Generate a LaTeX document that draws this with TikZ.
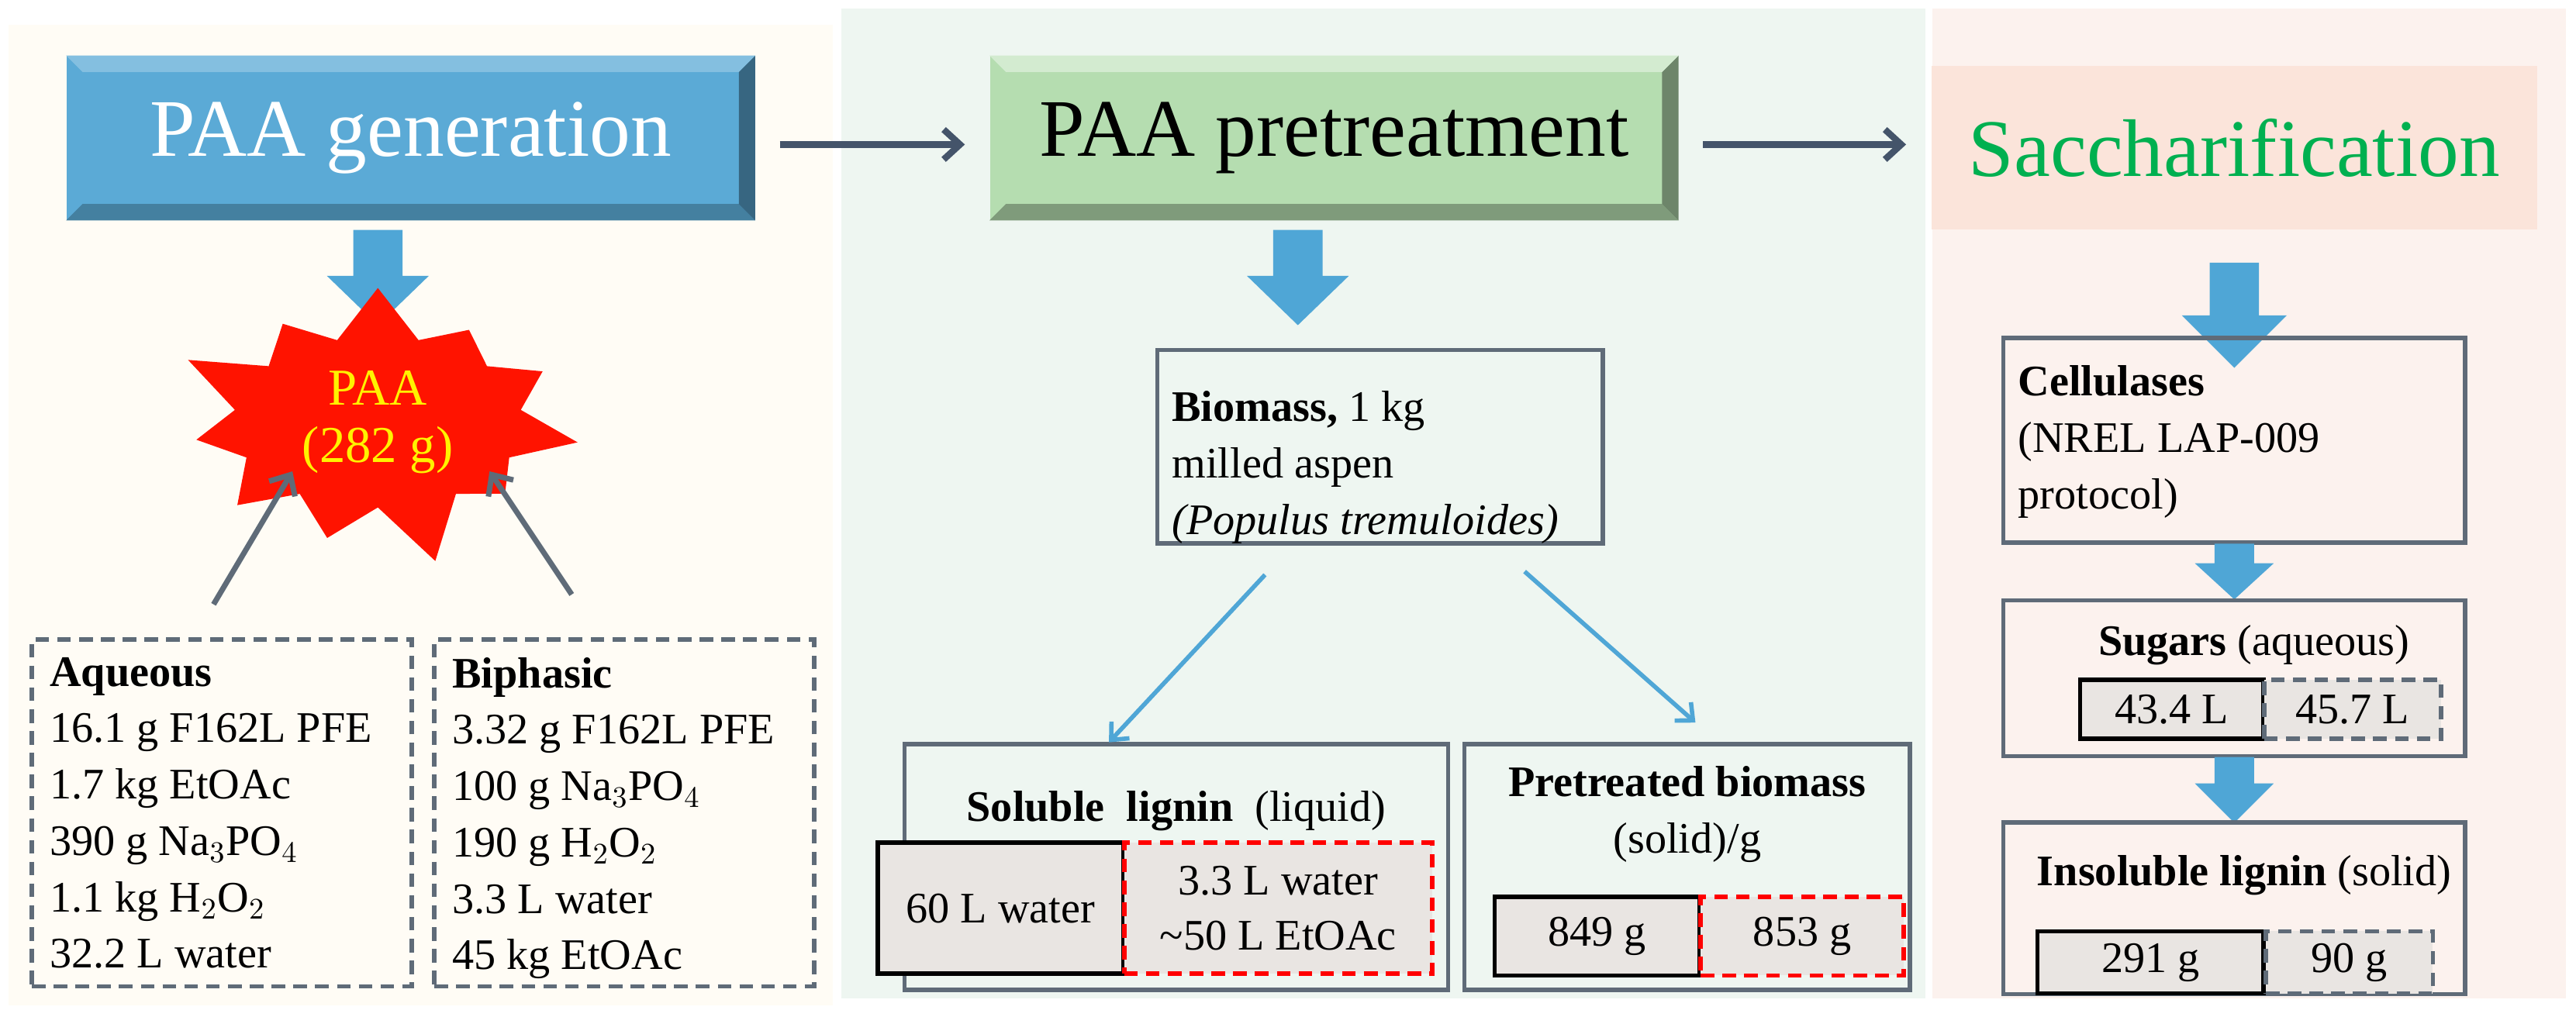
\documentclass[tikz,border=0pt]{standalone}
\usepackage{fontspec}
\setmainfont{Liberation Serif}
\usetikzlibrary{shapes.symbols,arrows.meta}
\definecolor{creamBack}{HTML}{FFFCF5}
\definecolor{greenBack}{HTML}{EEF6F1}
\definecolor{pinkBack}{HTML}{FCF2EE}
\definecolor{headBlue}{HTML}{5BAAD6}
\definecolor{headGreen}{HTML}{B5DDB0}
\definecolor{headPink}{HTML}{FBE4DA}
\definecolor{saccGreen}{HTML}{00B050}
\definecolor{flowDark}{HTML}{44546A}
\definecolor{boxGray}{HTML}{5F6B78}
\definecolor{cellFill}{HTML}{E9E5E2}
\definecolor{lightBlue}{HTML}{4FA6D6}
\def\dpx{0.6011}
\tikzset{
	header/.style={minimum width=#1*\dpx, minimum height=100*\dpx, inner sep=0pt, font=\fontsize{30}{32}\selectfont},
	bigarrow/.style={fill=lightBlue},
	frame/.style={draw=boxGray, line width=1.6pt, inner sep=0pt},
	dashframe/.style={draw=boxGray, line width=1.6pt, dash pattern=on 5pt off 3pt, inner sep=0pt},
	txt/.style={font=\fontsize{16}{20.7}\selectfont, align=left, inner sep=0pt},
	cell/.style={draw=#1, fill=cellFill, line width=1.6pt, inner sep=0pt, font=\fontsize{16}{20}\selectfont},
	flow/.style={-{Straight Barb[length=6pt,width=11pt]}, draw=flowDark, line width=2.4pt},
	thin/.style={-{Straight Barb[length=5pt,width=9pt]}, draw=lightBlue, line width=1.6pt}
}
% block arrow pointing down from a named coordinate: shaft half width, head half width, shaft length, head length
\newcommand\downArrow[5]{\fill[bigarrow] (#1) ++(-#2,0) -- ++(0,#4) -- ++(#2-#3,0) -- ++(#3,#5) -- ++(#3,-#5) -- ++(#2-#3,0) -- ++(0,-#4) -- cycle;}
\begin{document}
\begin{tikzpicture}[x=0.2119mm, y=-0.2119mm]
\useasboundingbox (0,0) rectangle (1568,619);
% panels
\fill[creamBack] (5,15) rectangle (507,612);
\fill[greenBack] (512,5) rectangle (1172,608);
\fill[pinkBack] (1176,5) rectangle (1562,608);

% headers
\node[header=420, fill=headBlue] (gen) at (250,84) {};
\fill[headBlue!75!black] (gen.south west) -- (gen.south east) -- ++(-10,-10) -- ([shift={(10,-10)}]gen.south west) -- cycle;
\fill[headBlue!60!black] (gen.south east) -- (gen.north east) -- ++(-10,10) -- ([shift={(-10,-10)}]gen.south east) -- cycle;
\fill[headBlue!75!white] (gen.north west) -- (gen.north east) -- ++(-10,10) -- ([shift={(10,10)}]gen.north west) -- cycle;
\node[header=420, text=white] at (gen) {PAA generation};

\node[header=420, fill=headGreen] (pre) at (812,84) {};
\fill[headGreen!70!black] (pre.south west) -- (pre.south east) -- ++(-10,-10) -- ([shift={(10,-10)}]pre.south west) -- cycle;
\fill[headGreen!60!black] (pre.south east) -- (pre.north east) -- ++(-10,10) -- ([shift={(-10,-10)}]pre.south east) -- cycle;
\fill[headGreen!60!white] (pre.north west) -- (pre.north east) -- ++(-10,10) -- ([shift={(10,10)}]pre.north west) -- cycle;
\node[header=420] at (pre) {PAA pretreatment};

\node[header=370, fill=headPink, text=saccGreen] (sacc) at (1360,90) {Saccharification};

\coordinate (g1) at ([shift={(15,4)}]gen.east);
\coordinate (p0) at ([shift={(-15,4)}]pre.west);
\coordinate (p1) at ([shift={(15,4)}]pre.east);
\coordinate (sw0) at ([shift={(-15,0)}]sacc.west);
\coordinate (s0) at (p1 -| sw0);
\draw[flow] (g1) -- (p0);
\draw[flow] (p1) -- (s0);

% PAA generation
\coordinate (genArrow) at (230,140);
\downArrow{genArrow}{15}{31}{28}{30}
\node[starburst, starburst points=11, starburst point height=25pt, fill=red!85!orange, draw=none, minimum width=156pt, minimum height=90pt, align=center, text=yellow, font=\fontsize{19}{21}\selectfont] (paa) at (230,257) {PAA\\(282 g)};

\node[dashframe, minimum width=232*\dpx, minimum height=212*\dpx] (aq) at (135,495) {};
\node[txt, anchor=north west] at ([shift={(12,12)}]aq.north west) {\textbf{Aqueous}\\16.1 g F162L PFE\\1.7 kg EtOAc\\390 g Na$_3$PO$_4$\\1.1 kg H$_2$O$_2$\\32.2 L water};
\node[dashframe, minimum width=232*\dpx, minimum height=212*\dpx] (bi) at (380,495) {};
\node[txt, anchor=north west] at ([shift={(12,12)}]bi.north west) {\textbf{Biphasic}\\3.32 g F162L PFE\\100 g Na$_3$PO$_4$\\190 g H$_2$O$_2$\\3.3 L water\\45 kg EtOAc};
\coordinate (aqTail) at (130,368);
\coordinate (biTail) at (348,362);
\draw[flow, draw=boxGray, line width=2pt] (aqTail) -- (178,287);
\draw[flow, draw=boxGray, line width=2pt] (biTail) -- (298,287);

% PAA pretreatment
\coordinate (preArrow) at (790,140);
\downArrow{preArrow}{15}{31}{28}{30}
\node[frame, minimum width=272*\dpx, minimum height=118*\dpx] (bio) at (840,272) {};
\node[txt, anchor=north west] at ([shift={(10,26)}]bio.north west) {\textbf{Biomass,} 1 kg\\milled aspen\\\textit{(Populus tremuloides)}};
\node[frame, minimum width=332*\dpx, minimum height=150*\dpx] (sol) at (716,528) {};
\node[txt] at (716,494) {\textbf{Soluble\ \ lignin}\ \ (liquid)};
\node[cell=black, minimum width=150*\dpx, minimum height=80*\dpx] (solA) at (609,553) {60 L water};
\node[cell=red, dash pattern=on 5pt off 3pt, minimum width=188*\dpx, minimum height=80*\dpx, align=center] (solB) at (778,553) {3.3 L water\\\textasciitilde50 L EtOAc};
\node[frame, minimum width=272*\dpx, minimum height=150*\dpx] (ptb) at (1027,528) {};
\node[txt, align=center] at (1027,496) {\textbf{Pretreated biomass}\\(solid)/g};
\node[cell=black, minimum width=125*\dpx, minimum height=48*\dpx] (ptbA) at (972,570) {849 g};
\node[cell=red, dash pattern=on 5pt off 3pt, minimum width=124*\dpx, minimum height=48*\dpx] (ptbB) at (1097,570) {853 g};
\coordinate (solTail) at (770,350);
\coordinate (ptbTail) at (928,348);
\draw[thin] (solTail) -- (675,452);
\draw[thin] (ptbTail) -- (1032,440);

% Saccharification
\coordinate (sacArrow) at (1360,160);
\downArrow{sacArrow}{15}{32}{32}{32}
\node[frame, minimum width=282*\dpx, minimum height=125*\dpx] (cel) at (1360,268) {};
\node[txt, anchor=north west] at ([shift={(10,18)}]cel.north west) {\textbf{Cellulases}\\(NREL LAP-009\\protocol)};
\coordinate (celArrow) at (1360,331);
\downArrow{celArrow}{12}{24}{12}{22}
\node[frame, minimum width=282*\dpx, minimum height=95*\dpx] (sug) at (1360,413) {};
\node[txt] at (1372,393) {\textbf{Sugars} (aqueous)};
\node[cell=black, minimum width=112*\dpx, minimum height=36*\dpx] (sugA) at (1322,432) {43.4 L};
\node[cell=boxGray, dash pattern=on 5pt off 3pt, minimum width=108*\dpx, minimum height=36*\dpx] (sugB) at (1432,432) {45.7 L};
\coordinate (sugArrow) at (1360,461);
\downArrow{sugArrow}{12}{24}{16}{24}
\node[frame, minimum width=282*\dpx, minimum height=105*\dpx] (ins) at (1360,553) {};
\node[txt] at (1366,533) {\textbf{Insoluble lignin} (solid)};
\node[cell=black, minimum width=138*\dpx, minimum height=38*\dpx] (insA) at (1309,586) {291 g};
\node[cell=boxGray, dash pattern=on 5pt off 3pt, minimum width=102*\dpx, minimum height=38*\dpx] (insB) at (1430,586) {90 g};
\end{tikzpicture}
\end{document}
